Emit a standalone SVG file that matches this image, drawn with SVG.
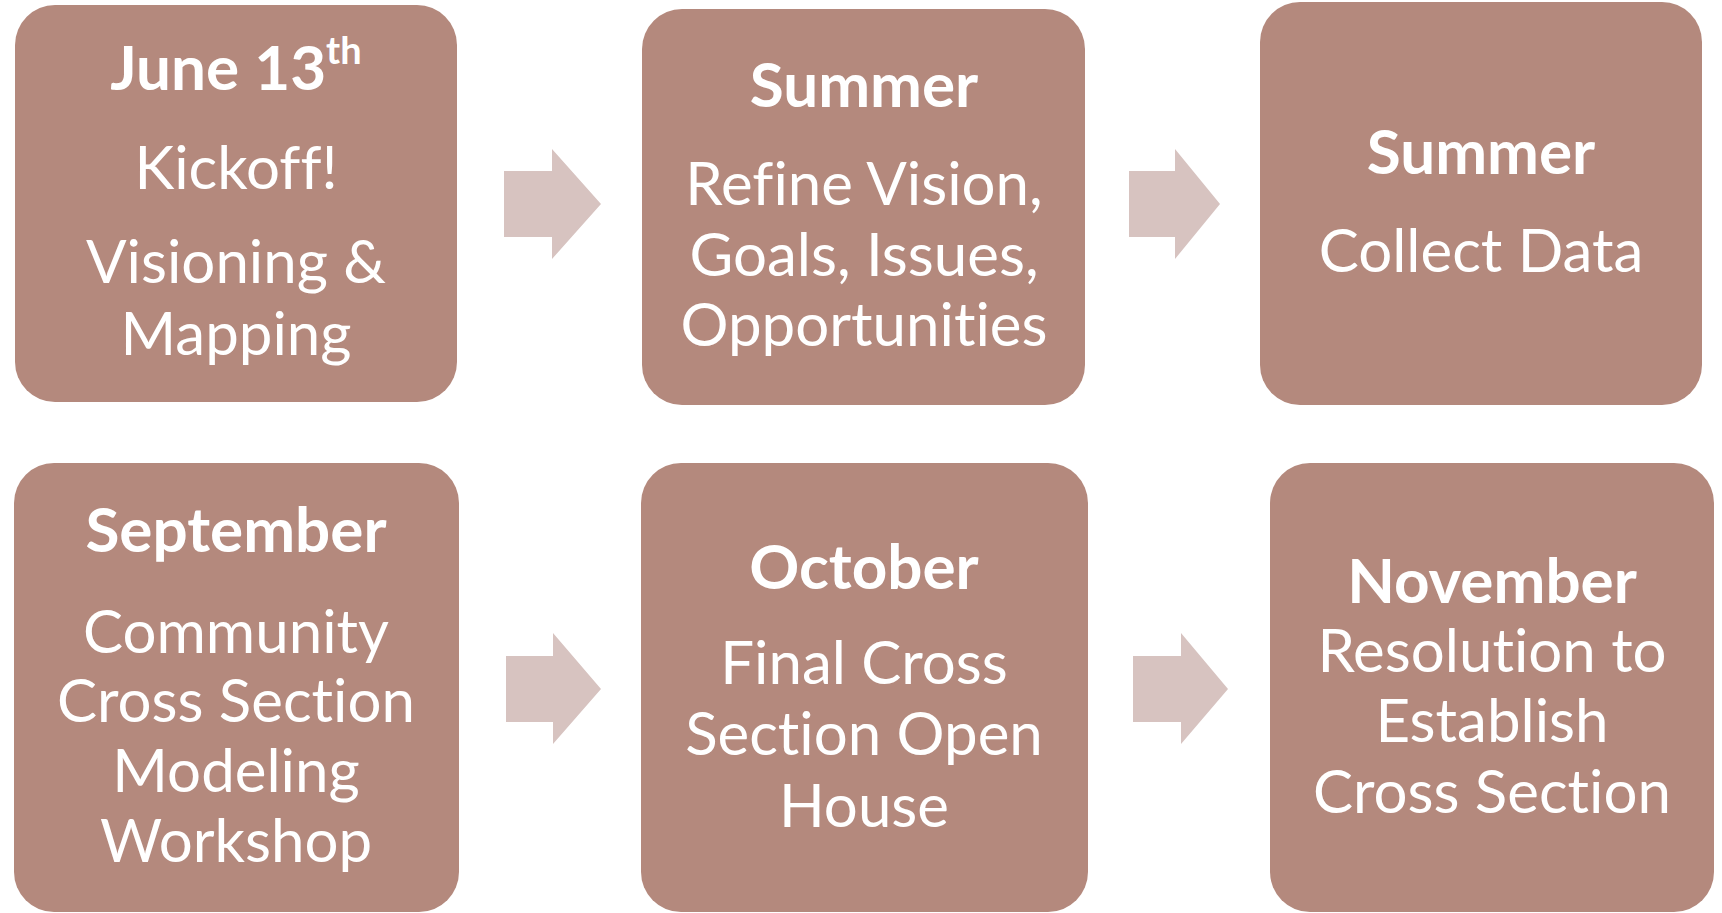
<svg xmlns="http://www.w3.org/2000/svg" width="1722" height="913" viewBox="0 0 1722 913">
<style>
.box{fill:#B4897D;}
.arr{fill:#D7C3C0;}
text{font-family:Lato,"Open Sans","Liberation Sans",sans-serif;fill:#FFFFFF;text-anchor:middle;font-variant-ligatures:none;font-feature-settings:"liga" 0,"clig" 0,"dlig" 0;}
.h{font-size:62px;font-weight:bold;}
.b{font-size:60px;}
</style>
<rect width="1722" height="913" fill="#FFFFFF"/>
<g id="connectors">
<polygon class="arr" points="504,171 552,171 552,149 601,204 552,259 552,237 504,237"/>
<polygon class="arr" points="1129,171 1175,171 1175,149 1220,204 1175,259 1175,237 1129,237"/>
<polygon class="arr" points="506,656 553,656 553,633 601,689 553,744 553,722 506,722"/>
<polygon class="arr" points="1133,656 1181,656 1181,633 1228,689 1181,744 1181,722 1133,722"/>
</g>
<g id="n1">
<rect class="box" x="15" y="5" width="442" height="397" rx="40"/>
<text class="h" x="236" y="90">June 13<tspan font-size="38" dy="-26">th</tspan></text>
<text class="b" x="236" y="189">Kickoff!</text>
<text class="b" x="236" y="283">Visioning &amp;</text>
<text class="b" x="236" y="355">Mapping</text>
</g>
<g id="n2">
<rect class="box" x="642" y="9" width="443" height="396" rx="40"/>
<text class="h" x="864" y="107">Summer</text>
<text class="b" x="864" y="205">Refine Vision,</text>
<text class="b" x="864" y="276">Goals, Issues,</text>
<text class="b" x="864" y="346">Opportunities</text>
</g>
<g id="n3">
<rect class="box" x="1260" y="2" width="442" height="403" rx="40"/>
<text class="h" x="1481" y="174">Summer</text>
<text class="b" x="1481" y="272">Collect Data</text>
</g>
<g id="n4">
<rect class="box" x="14" y="463" width="445" height="449" rx="40"/>
<text class="h" x="236" y="552">September</text>
<text class="b" x="236" y="653">Community</text>
<text class="b" x="236" y="722">Cross Section</text>
<text class="b" x="236" y="792">Modeling</text>
<text class="b" x="236" y="862">Workshop</text>
</g>
<g id="n5">
<rect class="box" x="641" y="463" width="447" height="449" rx="40"/>
<text class="h" x="864" y="589">October</text>
<text class="b" x="864" y="684">Final Cross</text>
<text class="b" x="864" y="755">Section Open</text>
<text class="b" x="864" y="827">House</text>
</g>
<g id="n6">
<rect class="box" x="1270" y="463" width="444" height="449" rx="40"/>
<text class="h" x="1492" y="603">November</text>
<text class="b" x="1492" y="672">Resolution to</text>
<text class="b" x="1492" y="742">Establish</text>
<text class="b" x="1492" y="813">Cross Section</text>
</g>
</svg>
